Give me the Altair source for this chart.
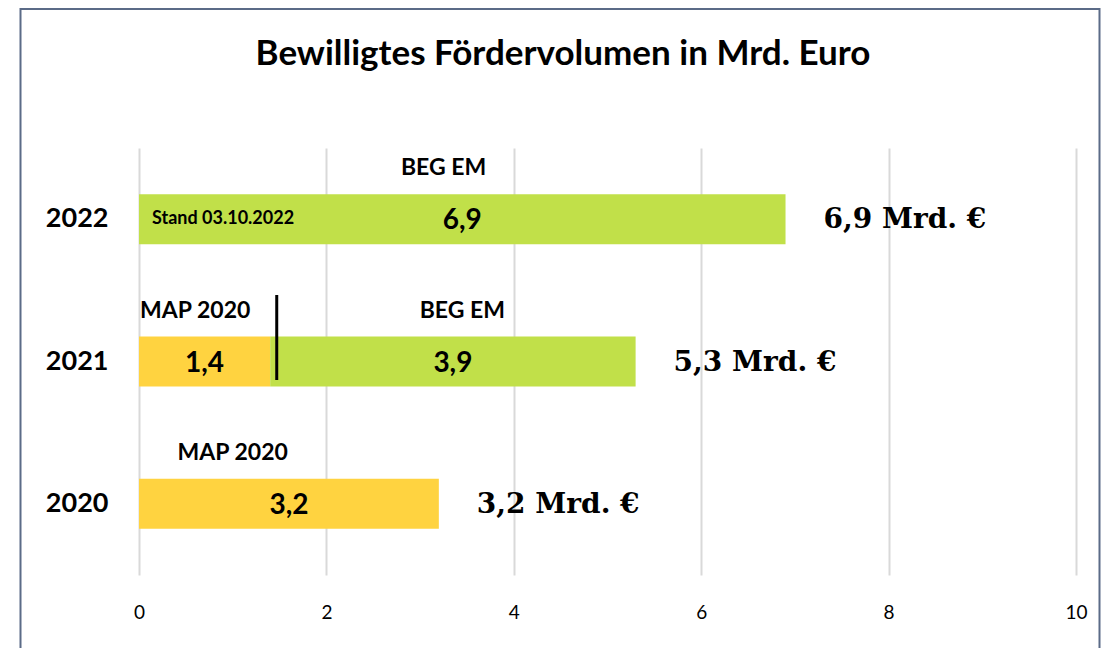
import altair as alt
import pandas as pd

# ---- data ----
years = ["2022", "2021", "2020"]
seg_year = ["2022", "2021", "2021", "2020"]
seg_program = ["BEG EM", "MAP 2020", "BEG EM", "MAP 2020"]
seg_start = [0.0, 0.0, 1.4, 0.0]
seg_end = [6.9, 1.4, 5.3, 3.2]
seg_label = ["6,9", "1,4", "3,9", "3,2"]
prog_label_x = [3.25, 0.6, 3.45, 1.0]   # where the programme names sit (data units)
total_year = ["2022", "2021", "2020"]
total_value = [6.9, 5.3, 3.2]
total_label = ["6,9 Mrd. €", "5,3 Mrd. €", "3,2 Mrd. €"]
note_year = ["2022"]
note_text = ["Stand 03.10.2022"]
divider_year = ["2021"]
divider_x = [1.47]
x_ticks = [0, 2, 4, 6, 8, 10]
title_text = "Bewilligtes Fördervolumen in Mrd. Euro"

programs = ["BEG EM", "MAP 2020"]
colors = ["#C1E049", "#FFD340"]

W, H = 937, 427

segs = pd.DataFrame({"year": seg_year, "program": seg_program, "start": seg_start,
                     "end": seg_end, "label": seg_label, "lx": prog_label_x})
totals = pd.DataFrame({"year": total_year, "value": total_value, "label": total_label})
note = pd.DataFrame({"year": note_year, "text": note_text})
divider = pd.DataFrame({"year": divider_year, "x": divider_x})

xscale = alt.Scale(domain=[0, 10], nice=False)
yscale = alt.Scale(domain=years, paddingInner=0, paddingOuter=0)

xaxis = alt.Axis(values=x_ticks, format="d", domain=False, ticks=False, grid=True,
                 gridColor="#d9d9d9", gridWidth=2, labelFont="Lato", labelFontSize=19,
                 labelColor="#000000", labelPadding=28, labelFlush=False, title=None)
yaxis = alt.Axis(domain=False, ticks=False, grid=False, labelFont="Lato", labelFontSize=27,
                 labelFontWeight="bold", labelColor="#000000", labelPadding=31, title=None)

base = alt.Chart(segs)

bars = base.mark_bar(size=50).encode(
    x=alt.X("start:Q", scale=xscale, axis=xaxis),
    x2="end:Q",
    y=alt.Y("year:N", scale=yscale, axis=yaxis, sort=years),
    color=alt.Color("program:N", scale=alt.Scale(domain=programs, range=colors), legend=None),
)

values = base.transform_calculate(mid="(datum.start + datum.end) / 2").mark_text(
    font="Lato", fontWeight="bold", fontSize=28, color="#000000", baseline="middle", dy=2
).encode(
    x=alt.X("mid:Q", scale=xscale),
    y=alt.Y("year:N", scale=yscale, sort=years),
    text="label:N",
)

prog_labels = base.mark_text(
    font="Lato", fontWeight="bold", fontSize=23, color="#000000", baseline="middle", dy=-51
).encode(
    x=alt.X("lx:Q", scale=xscale),
    y=alt.Y("year:N", scale=yscale, sort=years),
    text="program:N",
)

note_layer = alt.Chart(note).transform_calculate(zero="0").mark_text(
    font="Lato", fontWeight="bold", fontSize=18, color="#000000", align="left",
    baseline="middle", dx=13
).encode(
    x=alt.X("zero:Q", scale=xscale),
    y=alt.Y("year:N", scale=yscale, sort=years),
    text="text:N",
)

total_layer = alt.Chart(totals).mark_text(
    font="DejaVu Serif", fontWeight="bold", fontSize=28, color="#000000", align="left",
    baseline="middle", dx=38, dy=1
).encode(
    x=alt.X("value:Q", scale=xscale),
    y=alt.Y("year:N", scale=yscale, sort=years),
    text="label:N",
)

divider_layer = alt.Chart(divider).mark_rule(
    color="#000000", strokeWidth=3, yOffset=-66.5, y2Offset=18.5
).encode(
    x=alt.X("x:Q", scale=xscale),
    y=alt.Y("year:N", scale=yscale, sort=years),
    y2="year:N",
)

title_layer = alt.Chart(pd.DataFrame({"t": [title_text]})).mark_text(
    font="Lato", fontWeight="bold", fontSize=35, color="#000000",
    align="center", baseline="middle"
).encode(x=alt.value(424), y=alt.value(-94), text="t:N")

frame_color = "#5B6B87"
frame_top = alt.Chart(pd.DataFrame({"a": [0]})).mark_rule(color=frame_color, strokeWidth=2).encode(
    x=alt.value(-118.5), x2=alt.value(960.5), y=alt.value(-139))
frame_left = alt.Chart(pd.DataFrame({"a": [0]})).mark_rule(color=frame_color, strokeWidth=2).encode(
    x=alt.value(-118.5), y=alt.value(-140), y2=alt.value(520))
frame_right = alt.Chart(pd.DataFrame({"a": [0]})).mark_rule(color=frame_color, strokeWidth=2).encode(
    x=alt.value(960.5), y=alt.value(-140), y2=alt.value(520))

chart = alt.layer(
    bars, values, prog_labels, note_layer, total_layer, divider_layer, title_layer,
    frame_top, frame_left, frame_right
).properties(
    width=W, height=H,
    autosize=alt.AutoSizeParams(type="none"),
    padding={"left": 131, "top": 140, "right": 25, "bottom": 73},
    background="#ffffff",
).configure_view(strokeWidth=0)

chart.save("out.html", embed_options={"renderer": "svg", "actions": False})
